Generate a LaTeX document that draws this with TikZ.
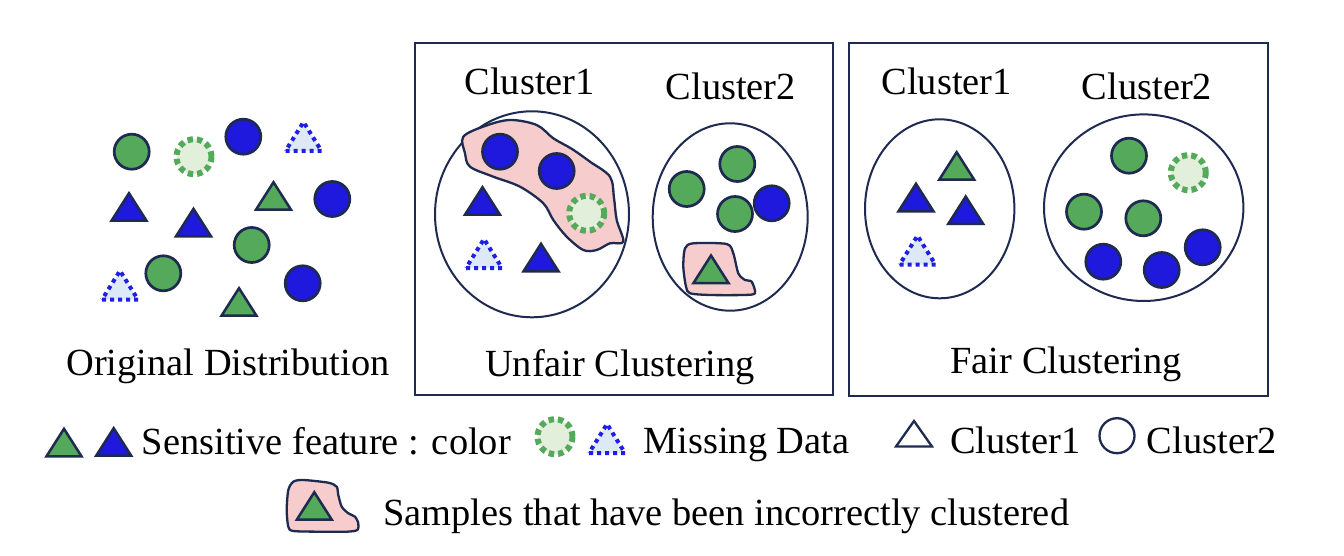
\documentclass[tikz,border=0pt]{standalone}
\usepackage{fontspec}
\setmainfont{Liberation Serif}
\definecolor{navy}{RGB}{30,42,80}
\definecolor{fgreen}{RGB}{84,170,90}
\definecolor{fblue}{RGB}{30,25,220}
\definecolor{lgreen}{RGB}{226,239,218}
\definecolor{lblue}{RGB}{222,233,247}
\definecolor{dblue}{RGB}{30,30,230}
\definecolor{pinkfill}{RGB}{246,204,204}
\newcommand\GCir[1]{\draw[gcirc] (#1) circle[radius=17.5pt];}
\newcommand\BCir[1]{\draw[bcirc] (#1) circle[radius=17.5pt];}
\newcommand\DCir[1]{\draw[dcirc] (#1) circle[radius=17.5pt];}
\newcommand\GTri[2]{\draw[gtri] ({#1-17.5},{#2-1}) -- ({#1+17.5},{#2-1}) -- (#1,{#2-28.5}) -- cycle;}
\newcommand\BTri[2]{\draw[btri] ({#1-17.5},{#2-1}) -- ({#1+17.5},{#2-1}) -- (#1,{#2-28.5}) -- cycle;}
\newcommand\DTri[2]{\draw[dtri] ({#1-18},{#2-2}) -- ({#1+18},{#2-2}) -- (#1,{#2-31}) -- cycle;}
\begin{document}
\begin{tikzpicture}[x=1pt,y=-1pt,
  lbl/.style={font=\fontsize{38.4}{46}\selectfont, inner sep=0pt, anchor=base},
  lgd/.style={font=\fontsize{38.4}{46}\selectfont, inner sep=0pt, anchor=base west},
  gcirc/.style={fill=fgreen, draw=navy, line width=2.7pt},
  bcirc/.style={fill=fblue, draw=navy, line width=2.7pt},
  dcirc/.style={fill=lgreen, draw=fgreen, line width=6pt, dash pattern=on 5.5pt off 4pt},
  gtri/.style={fill=fgreen, draw=navy, line width=2.5pt},
  btri/.style={fill=fblue, draw=navy, line width=2.5pt},
  dtri/.style={fill=lblue, draw=dblue, line width=4pt, dash pattern=on 4pt off 4pt},
  panel/.style={draw=navy, line width=2.3pt},
  clus/.style={draw=navy, line width=2pt},
  blob/.style={fill=pinkfill, draw=navy, line width=2.3pt}]
\useasboundingbox (0,0) rectangle (1344,556);

% ---------- Original distribution ----------
\GCir{131.7,151.7}
\DCir{194,156.7}
\BCir{243.3,136.7}
\DTri{303.5}{153}
\BTri{129}{221.7}
\BTri{193.5}{237.3}
\GTri{273.5}{210.7}
\BCir{332.3,199}
\GCir{251.7,245}
\GCir{163.3,273.3}
\BCir{302.7,283.3}
\DTri{120}{301.7}
\GTri{239}{316.7}
\node[lbl] (orig) at (228,375) {Original Distribution};

% ---------- Unfair clustering ----------
\draw[panel] (415,43) rectangle (833,395);
\node[lbl] (u1) at (529.7,95) {Cluster1};
\node[lbl] (u2) at (730.8,99.3) {Cluster2};
\draw[clus] (532,214.3) ellipse[x radius=97pt, y radius=103pt];
\draw[clus] (730.2,217) ellipse[x radius=77.5pt, y radius=93.7pt];
\draw[blob] plot[smooth cycle, tension=0.55] coordinates {
  (463.3,136.7) (485,126) (510,120) (536.7,125) (553.3,138.3) (572,149)
  (590,161.7) (610,176.7) (614,198) (616.7,220) (623.3,241.7) (610,243.3)
  (596.7,250) (583.3,250) (566.7,236.7) (553.3,220) (543.3,203.3)
  (520,186.7) (493.3,176.7) (470,166.7) (465,153.3)};
\BCir{500,151.7}
\BCir{556.7,171}
\DCir{586.7,213.3}
\BTri{482.5}{215.7}
\DTri{484}{270}
\BTri{541}{272.3}
\GCir{737.3,164}
\GCir{686.7,189}
\GCir{735,214}
\BCir{771.7,203.3}
\draw[blob] plot[smooth cycle, tension=0.45] coordinates {
  (685,248.3) (693.3,243.3) (726.7,244) (733.3,253.3) (738.3,273.3)
  (745,280) (751.7,281.7) (755,293.3) (743.3,295) (710,295) (690,293.3)
  (686,286.7) (683.3,266.7)};
\GTri{711}{284}
\node[lbl] (unfair) at (620,376.7) {Unfair Clustering};

% ---------- Fair clustering ----------
\draw[panel] (849,43) rectangle (1268,396);
\node[lbl] (f1) at (946.7,95) {Cluster1};
\node[lbl] (f2) at (1147,100) {Cluster2};
\draw[clus] (939.7,208.8) ellipse[x radius=74.7pt, y radius=89.5pt];
\draw[clus] (1143.7,207.7) ellipse[x radius=99.7pt, y radius=93.3pt];
\GTri{956.7}{180.7}
\BTri{916}{212.3}
\BTri{965.7}{225}
\DTri{917.5}{266.7}
\GCir{1129,155.7}
\DCir{1188.3,172.7}
\GCir{1084,211.7}
\GCir{1143.3,218.3}
\BCir{1103.3,261.7}
\BCir{1161.7,270}
\BCir{1202.7,247.3}
\node[lbl] (fair) at (1066.3,373.3) {Fair Clustering};

% ---------- Legend ----------
\GTri{64}{457.3}
\BTri{113.7}{456.7}
\node[lgd] (lsens) at (141.7,454) {Sensitive feature : color};
\DCir{555,436.7}
\DTri{607}{455}
\node[lgd] (lmiss) at (643.3,453) {Missing Data};
\draw[navy, line width=2.3pt] (896,446.5) -- (932,446.5) -- (914,421) -- cycle;
\node[lgd] (lc1) at (950,453) {Cluster1};
\draw[navy, line width=2.3pt] (1117,435.7) circle[radius=17.5pt];
\node[lgd] (lc2) at (1146.7,453) {Cluster2};
\draw[blob] plot[smooth cycle, tension=0.45] coordinates {
  (288.3,490) (293.3,481.7) (303.3,480) (328.3,482.7) (336.7,486.7)
  (338.3,495) (341.7,506.7) (348.3,513.3) (355,516.7) (358.3,523.3)
  (357.3,530) (346.7,531.7) (320,531.7) (293.3,531) (288.3,526.7) (286.7,510)};
\GTri{314.3}{520.7}
\node[lgd] (lsamp) at (383.3,525) {Samples that have been incorrectly clustered};
\end{tikzpicture}
\end{document}
